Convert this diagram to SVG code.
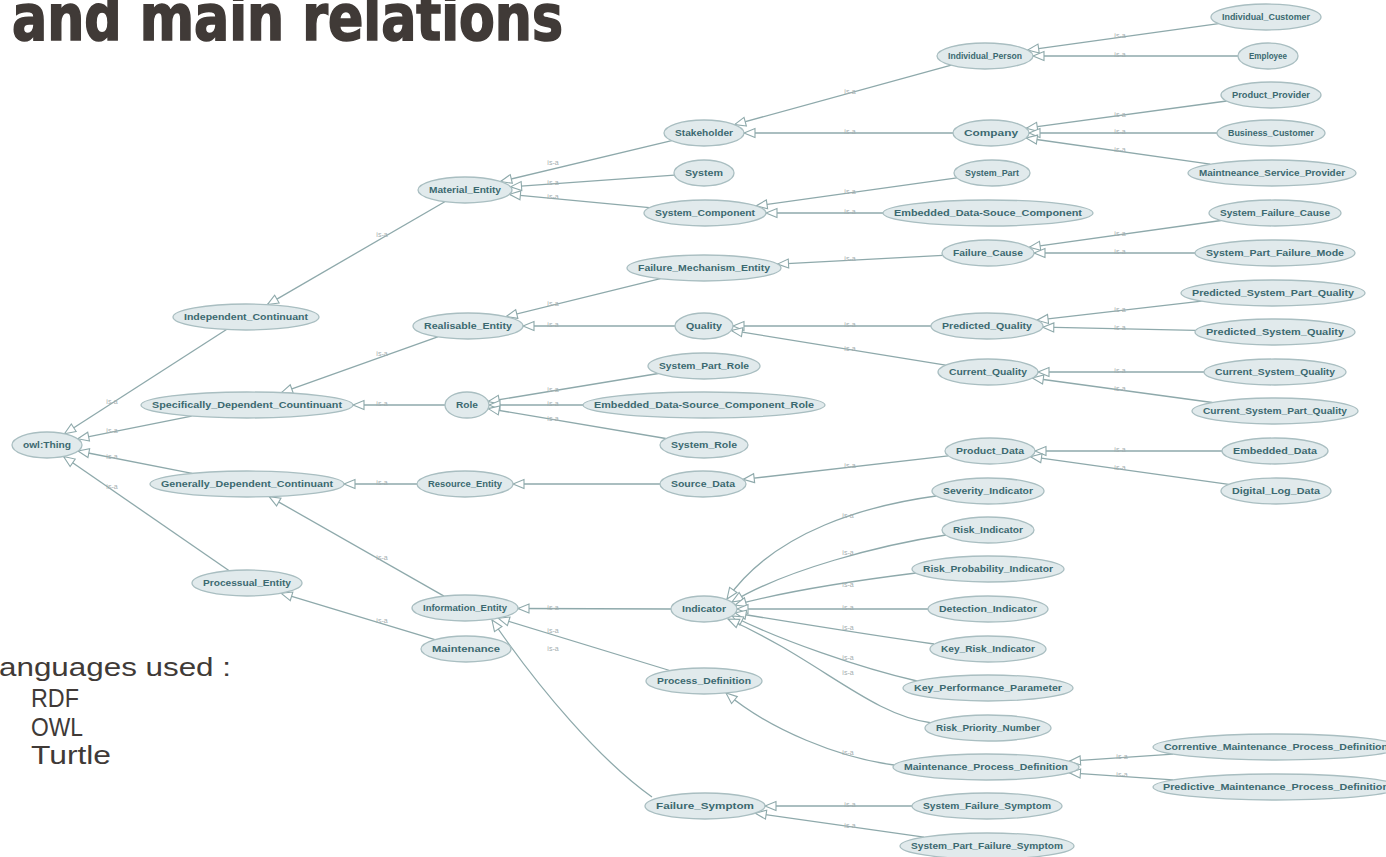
<svg xmlns="http://www.w3.org/2000/svg" width="1386" height="857" viewBox="0 0 1386 857">
<defs>
<marker id="tri" markerUnits="userSpaceOnUse" markerWidth="13" markerHeight="11" refX="11" refY="4.5" orient="auto" overflow="visible">
<path d="M0,0 L11,4.5 L0,9 Z" fill="#ffffff" stroke="#8ea9ab" stroke-width="1.1"/>
</marker>
</defs>
<style>
.bg{fill:#ffffff}
.n ellipse{fill:#e1eaec;stroke:#a9bec1;stroke-width:1.3}
.n text{font-family:"Liberation Sans",Arial,sans-serif;font-size:9px;font-weight:bold;fill:#3b6970;text-anchor:middle}
.e path{fill:none;stroke:#8ea9ab;stroke-width:1.3;marker-end:url(#tri)}
.l text{font-family:"Liberation Sans",Arial,sans-serif;font-size:7px;fill:#a3aeb0;text-anchor:middle}
.title{font-family:"Liberation Sans Narrow","DejaVu Sans Condensed","Liberation Sans",sans-serif;font-weight:bold;font-size:64px;fill:#403a37;stroke:#403a37;stroke-width:1.6}
.lang{font-family:"Liberation Sans",Arial,sans-serif;font-size:26px;fill:#403a37}
</style>
<rect class="bg" width="1386" height="857"/>
<text class="title" x="12" y="40" textLength="551" lengthAdjust="spacingAndGlyphs">and main relations</text>
<g id="languages">
<text class="lang" x="-1" y="676" textLength="232" lengthAdjust="spacingAndGlyphs">anguages used :</text>
<text class="lang" x="31" y="707" textLength="48" lengthAdjust="spacingAndGlyphs">RDF</text>
<text class="lang" x="31" y="736" textLength="52" lengthAdjust="spacingAndGlyphs">OWL</text>
<text class="lang" x="31" y="764" textLength="80" lengthAdjust="spacingAndGlyphs">Turtle</text>
</g>
<g id="connectors">
<g class="e">
<path d="M226.5,329.5 L64.5,433.7"/>
<path d="M191.6,416.1 L77.8,438.8"/>
<path d="M192.1,473.3 L78,451"/>
<path d="M229.2,570.7 L63.6,456.5"/>
<path d="M444.8,201.7 L267.4,304.6"/>
<path d="M437.7,336.8 L281.4,392.7"/>
<path d="M445,405 L353,405"/>
<path d="M417,484 L344,484"/>
<path d="M444,596.1 L269.2,496.6"/>
<path d="M434.9,639.6 L281,593.2"/>
<path d="M671.7,140.7 L500.6,181.5"/>
<path d="M674.4,175.1 L510.5,186.8"/>
<path d="M649.4,207.7 L509.4,194.3"/>
<path d="M951.3,65.2 L734.6,124.6"/>
<path d="M953,133 L744,133"/>
<path d="M1218.6,23.6 L1027.7,50.1"/>
<path d="M1238,56 L1033,56"/>
<path d="M1226.7,101 L1026.3,128.2"/>
<path d="M1217,133 L1029,133"/>
<path d="M1210.2,164.2 L1026.1,138"/>
<path d="M956.8,177.9 L756.1,205.9"/>
<path d="M883,213 L766,213"/>
<path d="M660.4,278.7 L506.1,316.6"/>
<path d="M675,326 L523,326"/>
<path d="M942.8,255.4 L777.5,264.1"/>
<path d="M1221.1,220.5 L1029.2,247.3"/>
<path d="M1195,253 L1034,253"/>
<path d="M931,326 L733,326"/>
<path d="M945.6,365.1 L731.3,330.4"/>
<path d="M1201.7,301.2 L1037.1,320.2"/>
<path d="M1195.6,330.3 L1042.8,327.2"/>
<path d="M1204,372 L1038,372"/>
<path d="M1212.3,402.5 L1032.3,378"/>
<path d="M658.3,373.5 L488.2,401.5"/>
<path d="M583,405 L489,405"/>
<path d="M665.8,438.5 L488.2,408.6"/>
<path d="M660,484 L513,484"/>
<path d="M948.2,455.8 L743.2,479.4"/>
<path d="M1222,451 L1035,451"/>
<path d="M1228.7,484.4 L1030.5,456.7"/>
<path d="M671,609 L518,608.5"/>
<path d="M669.7,670.5 L498.2,618.1"/>
<path d="M652,797 C600,760 540,690 492,620"/>
<path d="M936,496 C870,505 775,530 727,599"/>
<path d="M946,535 C880,545 785,570 732,602"/>
<path d="M916,573 C860,580 790,590 735,605"/>
<path d="M928,609 L737,609"/>
<path d="M934,644 C870,635 790,622 735,613"/>
<path d="M917,681 C860,668 780,640 732,616"/>
<path d="M932,723 C870,715 820,660 728,619"/>
<path d="M894,765 C840,758 770,730 726,693"/>
<path d="M1173,754.1 L1069.4,761.2"/>
<path d="M1173,779.9 L1069.4,772.8"/>
<path d="M912,806 L765,806"/>
<path d="M923.9,837.1 L755.2,813.1"/>
</g>
<g class="l">
<text x="112" y="404">is-a</text>
<text x="112" y="433">is-a</text>
<text x="112" y="458.6">is-a</text>
<text x="112" y="489">is-a</text>
<text x="382" y="237">is-a</text>
<text x="382" y="356">is-a</text>
<text x="382" y="406">is-a</text>
<text x="382" y="485">is-a</text>
<text x="382" y="560">is-a</text>
<text x="382" y="623">is-a</text>
<text x="553" y="165">is-a</text>
<text x="553" y="184.5">is-a</text>
<text x="553" y="199">is-a</text>
<text x="850" y="94">is-a</text>
<text x="850" y="134">is-a</text>
<text x="1120" y="38.3">is-a</text>
<text x="1120" y="57">is-a</text>
<text x="1120" y="116.5">is-a</text>
<text x="1120" y="134">is-a</text>
<text x="1120" y="152.4">is-a</text>
<text x="850" y="193.8">is-a</text>
<text x="850" y="214">is-a</text>
<text x="553" y="306">is-a</text>
<text x="553" y="327">is-a</text>
<text x="850" y="261.3">is-a</text>
<text x="1120" y="235.6">is-a</text>
<text x="1120" y="254">is-a</text>
<text x="850" y="327">is-a</text>
<text x="850" y="350.6">is-a</text>
<text x="1120" y="311.6">is-a</text>
<text x="1120" y="329.8">is-a</text>
<text x="1120" y="373">is-a</text>
<text x="1120" y="390.9">is-a</text>
<text x="553" y="391.8">is-a</text>
<text x="553" y="406">is-a</text>
<text x="553" y="420.5">is-a</text>
<text x="850" y="468.1">is-a</text>
<text x="1120" y="452">is-a</text>
<text x="1120" y="470.2">is-a</text>
<text x="553" y="609.5">is-a</text>
<text x="553" y="633">is-a</text>
<text x="553" y="651">is-a</text>
<text x="848" y="518">is-a</text>
<text x="848" y="555">is-a</text>
<text x="848" y="587">is-a</text>
<text x="848" y="610">is-a</text>
<text x="848" y="630">is-a</text>
<text x="848" y="660">is-a</text>
<text x="848" y="675">is-a</text>
<text x="848" y="755">is-a</text>
<text x="1122" y="758.6">is-a</text>
<text x="1122" y="777.4">is-a</text>
<text x="850" y="807">is-a</text>
<text x="850" y="827.6">is-a</text>
</g>
</g>
<g id="n-owl_Thing" class="n"><ellipse cx="47" cy="445" rx="35" ry="13"/><text x="47" y="448.2" textLength="48" lengthAdjust="spacingAndGlyphs">owl:Thing</text></g>
<g id="n-Independent_Continuant" class="n"><ellipse cx="246" cy="317" rx="73" ry="13"/><text x="246" y="320.2" textLength="124" lengthAdjust="spacingAndGlyphs">Independent_Continuant</text></g>
<g id="n-Specifically_Dependent_Countinuant" class="n"><ellipse cx="247" cy="405" rx="106" ry="13"/><text x="247" y="408.2" textLength="190" lengthAdjust="spacingAndGlyphs">Specifically_Dependent_Countinuant</text></g>
<g id="n-Generally_Dependent_Continuant" class="n"><ellipse cx="247" cy="484" rx="97" ry="13"/><text x="247" y="487.2" textLength="172" lengthAdjust="spacingAndGlyphs">Generally_Dependent_Continuant</text></g>
<g id="n-Processual_Entity" class="n"><ellipse cx="247" cy="583" rx="55" ry="13"/><text x="247" y="586.2" textLength="88" lengthAdjust="spacingAndGlyphs">Processual_Entity</text></g>
<g id="n-Material_Entity" class="n"><ellipse cx="465" cy="190" rx="47" ry="13"/><text x="465" y="193.2" textLength="72" lengthAdjust="spacingAndGlyphs">Material_Entity</text></g>
<g id="n-Realisable_Entity" class="n"><ellipse cx="468" cy="326" rx="55" ry="13"/><text x="468" y="329.2" textLength="88" lengthAdjust="spacingAndGlyphs">Realisable_Entity</text></g>
<g id="n-Role" class="n"><ellipse cx="467" cy="405" rx="22" ry="13"/><text x="467" y="408.2" textLength="22" lengthAdjust="spacingAndGlyphs">Role</text></g>
<g id="n-Resource_Entity" class="n"><ellipse cx="465" cy="484" rx="48" ry="13"/><text x="465" y="487.2" textLength="74" lengthAdjust="spacingAndGlyphs">Resource_Entity</text></g>
<g id="n-Information_Entity" class="n"><ellipse cx="465" cy="608" rx="53" ry="13"/><text x="465" y="611.2" textLength="84" lengthAdjust="spacingAndGlyphs">Information_Entity</text></g>
<g id="n-Maintenance" class="n"><ellipse cx="466" cy="649" rx="45" ry="13"/><text x="466" y="652.2" textLength="68" lengthAdjust="spacingAndGlyphs">Maintenance</text></g>
<g id="n-Stakeholder" class="n"><ellipse cx="704" cy="133" rx="40" ry="13"/><text x="704" y="136.2" textLength="58" lengthAdjust="spacingAndGlyphs">Stakeholder</text></g>
<g id="n-System" class="n"><ellipse cx="704" cy="173" rx="30" ry="13"/><text x="704" y="176.2" textLength="38" lengthAdjust="spacingAndGlyphs">System</text></g>
<g id="n-System_Component" class="n"><ellipse cx="705" cy="213" rx="61" ry="13"/><text x="705" y="216.2" textLength="100" lengthAdjust="spacingAndGlyphs">System_Component</text></g>
<g id="n-Failure_Mechanism_Entity" class="n"><ellipse cx="704" cy="268" rx="77" ry="13"/><text x="704" y="271.2" textLength="132" lengthAdjust="spacingAndGlyphs">Failure_Mechanism_Entity</text></g>
<g id="n-Quality" class="n"><ellipse cx="704" cy="326" rx="29" ry="13"/><text x="704" y="329.2" textLength="36" lengthAdjust="spacingAndGlyphs">Quality</text></g>
<g id="n-System_Part_Role" class="n"><ellipse cx="704" cy="366" rx="56" ry="13"/><text x="704" y="369.2" textLength="90" lengthAdjust="spacingAndGlyphs">System_Part_Role</text></g>
<g id="n-Embedded_Data-Source_Component_Role" class="n"><ellipse cx="704" cy="405" rx="121" ry="13"/><text x="704" y="408.2" textLength="220" lengthAdjust="spacingAndGlyphs">Embedded_Data-Source_Component_Role</text></g>
<g id="n-System_Role" class="n"><ellipse cx="704" cy="445" rx="44" ry="13"/><text x="704" y="448.2" textLength="66" lengthAdjust="spacingAndGlyphs">System_Role</text></g>
<g id="n-Source_Data" class="n"><ellipse cx="703" cy="484" rx="43" ry="13"/><text x="703" y="487.2" textLength="64" lengthAdjust="spacingAndGlyphs">Source_Data</text></g>
<g id="n-Indicator" class="n"><ellipse cx="704" cy="609" rx="33" ry="13"/><text x="704" y="612.2" textLength="44" lengthAdjust="spacingAndGlyphs">Indicator</text></g>
<g id="n-Process_Definition" class="n"><ellipse cx="704" cy="681" rx="58" ry="13"/><text x="704" y="684.2" textLength="94" lengthAdjust="spacingAndGlyphs">Process_Definition</text></g>
<g id="n-Failure_Symptom" class="n"><ellipse cx="705" cy="806" rx="60" ry="13"/><text x="705" y="809.2" textLength="98" lengthAdjust="spacingAndGlyphs">Failure_Symptom</text></g>
<g id="n-Individual_Person" class="n"><ellipse cx="985" cy="56" rx="48" ry="13"/><text x="985" y="59.2" textLength="74" lengthAdjust="spacingAndGlyphs">Individual_Person</text></g>
<g id="n-Company" class="n"><ellipse cx="991" cy="133" rx="38" ry="13"/><text x="991" y="136.2" textLength="54" lengthAdjust="spacingAndGlyphs">Company</text></g>
<g id="n-System_Part" class="n"><ellipse cx="992" cy="173" rx="38" ry="13"/><text x="992" y="176.2" textLength="54" lengthAdjust="spacingAndGlyphs">System_Part</text></g>
<g id="n-Embedded_Data-Souce_Component" class="n"><ellipse cx="988" cy="213" rx="105" ry="13"/><text x="988" y="216.2" textLength="188" lengthAdjust="spacingAndGlyphs">Embedded_Data-Souce_Component</text></g>
<g id="n-Failure_Cause" class="n"><ellipse cx="988" cy="253" rx="46" ry="13"/><text x="988" y="256.2" textLength="70" lengthAdjust="spacingAndGlyphs">Failure_Cause</text></g>
<g id="n-Predicted_Quality" class="n"><ellipse cx="987" cy="326" rx="56" ry="13"/><text x="987" y="329.2" textLength="90" lengthAdjust="spacingAndGlyphs">Predicted_Quality</text></g>
<g id="n-Current_Quality" class="n"><ellipse cx="988" cy="372" rx="50" ry="13"/><text x="988" y="375.2" textLength="78" lengthAdjust="spacingAndGlyphs">Current_Quality</text></g>
<g id="n-Product_Data" class="n"><ellipse cx="990" cy="451" rx="45" ry="13"/><text x="990" y="454.2" textLength="68" lengthAdjust="spacingAndGlyphs">Product_Data</text></g>
<g id="n-Severity_Indicator" class="n"><ellipse cx="988" cy="491" rx="56" ry="13"/><text x="988" y="494.2" textLength="90" lengthAdjust="spacingAndGlyphs">Severity_Indicator</text></g>
<g id="n-Risk_Indicator" class="n"><ellipse cx="988" cy="530" rx="46" ry="13"/><text x="988" y="533.2" textLength="70" lengthAdjust="spacingAndGlyphs">Risk_Indicator</text></g>
<g id="n-Risk_Probability_Indicator" class="n"><ellipse cx="988" cy="569" rx="76" ry="13"/><text x="988" y="572.2" textLength="130" lengthAdjust="spacingAndGlyphs">Risk_Probability_Indicator</text></g>
<g id="n-Detection_Indicator" class="n"><ellipse cx="988" cy="609" rx="60" ry="13"/><text x="988" y="612.2" textLength="98" lengthAdjust="spacingAndGlyphs">Detection_Indicator</text></g>
<g id="n-Key_Risk_Indicator" class="n"><ellipse cx="988" cy="649" rx="58" ry="13"/><text x="988" y="652.2" textLength="94" lengthAdjust="spacingAndGlyphs">Key_Risk_Indicator</text></g>
<g id="n-Key_Performance_Parameter" class="n"><ellipse cx="988" cy="688" rx="85" ry="13"/><text x="988" y="691.2" textLength="148" lengthAdjust="spacingAndGlyphs">Key_Performance_Parameter</text></g>
<g id="n-Risk_Priority_Number" class="n"><ellipse cx="988" cy="728" rx="63" ry="13"/><text x="988" y="731.2" textLength="104" lengthAdjust="spacingAndGlyphs">Risk_Priority_Number</text></g>
<g id="n-Maintenance_Process_Definition" class="n"><ellipse cx="986" cy="767" rx="93" ry="13"/><text x="986" y="770.2" textLength="164" lengthAdjust="spacingAndGlyphs">Maintenance_Process_Definition</text></g>
<g id="n-System_Failure_Symptom" class="n"><ellipse cx="987" cy="806" rx="75" ry="13"/><text x="987" y="809.2" textLength="128" lengthAdjust="spacingAndGlyphs">System_Failure_Symptom</text></g>
<g id="n-System_Part_Failure_Symptom" class="n"><ellipse cx="987" cy="846" rx="87" ry="13"/><text x="987" y="849.2" textLength="152" lengthAdjust="spacingAndGlyphs">System_Part_Failure_Symptom</text></g>
<g id="n-Individual_Customer" class="n"><ellipse cx="1266" cy="17" rx="55" ry="13"/><text x="1266" y="20.2" textLength="88" lengthAdjust="spacingAndGlyphs">Individual_Customer</text></g>
<g id="n-Employee" class="n"><ellipse cx="1268" cy="56" rx="30" ry="13"/><text x="1268" y="59.2" textLength="38" lengthAdjust="spacingAndGlyphs">Employee</text></g>
<g id="n-Product_Provider" class="n"><ellipse cx="1271" cy="95" rx="50" ry="13"/><text x="1271" y="98.2" textLength="78" lengthAdjust="spacingAndGlyphs">Product_Provider</text></g>
<g id="n-Business_Customer" class="n"><ellipse cx="1271" cy="133" rx="54" ry="13"/><text x="1271" y="136.2" textLength="86" lengthAdjust="spacingAndGlyphs">Business_Customer</text></g>
<g id="n-Maintneance_Service_Provider" class="n"><ellipse cx="1272" cy="173" rx="84" ry="13"/><text x="1272" y="176.2" textLength="146" lengthAdjust="spacingAndGlyphs">Maintneance_Service_Provider</text></g>
<g id="n-System_Failure_Cause" class="n"><ellipse cx="1275" cy="213" rx="66" ry="13"/><text x="1275" y="216.2" textLength="110" lengthAdjust="spacingAndGlyphs">System_Failure_Cause</text></g>
<g id="n-System_Part_Failure_Mode" class="n"><ellipse cx="1275" cy="253" rx="80" ry="13"/><text x="1275" y="256.2" textLength="138" lengthAdjust="spacingAndGlyphs">System_Part_Failure_Mode</text></g>
<g id="n-Predicted_System_Part_Quality" class="n"><ellipse cx="1273" cy="293" rx="92" ry="13"/><text x="1273" y="296.2" textLength="162" lengthAdjust="spacingAndGlyphs">Predicted_System_Part_Quality</text></g>
<g id="n-Predicted_System_Quality" class="n"><ellipse cx="1275" cy="332" rx="80" ry="13"/><text x="1275" y="335.2" textLength="138" lengthAdjust="spacingAndGlyphs">Predicted_System_Quality</text></g>
<g id="n-Current_System_Quality" class="n"><ellipse cx="1275" cy="372" rx="71" ry="13"/><text x="1275" y="375.2" textLength="120" lengthAdjust="spacingAndGlyphs">Current_System_Quality</text></g>
<g id="n-Current_System_Part_Quality" class="n"><ellipse cx="1275" cy="411" rx="83" ry="13"/><text x="1275" y="414.2" textLength="144" lengthAdjust="spacingAndGlyphs">Current_System_Part_Quality</text></g>
<g id="n-Embedded_Data" class="n"><ellipse cx="1275" cy="451" rx="53" ry="13"/><text x="1275" y="454.2" textLength="84" lengthAdjust="spacingAndGlyphs">Embedded_Data</text></g>
<g id="n-Digital_Log_Data" class="n"><ellipse cx="1276" cy="491" rx="55" ry="13"/><text x="1276" y="494.2" textLength="88" lengthAdjust="spacingAndGlyphs">Digital_Log_Data</text></g>
<g id="n-Correntive_Maintenance_Process_Definition" class="n"><ellipse cx="1276" cy="747" rx="123" ry="13"/><text x="1276" y="750.2" textLength="224" lengthAdjust="spacingAndGlyphs">Correntive_Maintenance_Process_Definition</text></g>
<g id="n-Predictive_Maintenance_Process_Definition" class="n"><ellipse cx="1276" cy="787" rx="123" ry="13"/><text x="1276" y="790.2" textLength="226" lengthAdjust="spacingAndGlyphs">Predictive_Maintenance_Process_Definition</text></g>
</svg>
